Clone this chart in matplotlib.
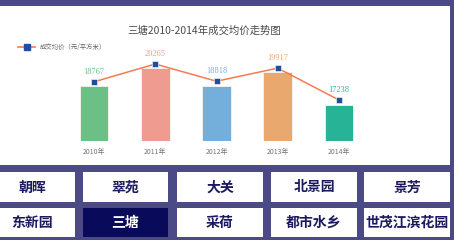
import matplotlib
matplotlib.use("Agg")
import matplotlib.pyplot as plt
from matplotlib.patches import Rectangle

plt.rcParams["font.family"] = ["Noto Sans CJK SC", "DejaVu Sans"]

years = ["2010年", "2011年", "2012年", "2013年", "2014年"]
price = [18767, 20265, 18818, 19917, 17238]
bar_colors = ["#6cc085", "#ef9b90", "#74afdc", "#e9a96e", "#27b395"]
buttons_row1 = ["朝晖", "翠苑", "大关", "北景园", "景芳"]
buttons_row2 = ["东新园", "三塘", "采荷", "都市水乡", "世茂江滨花园"]
selected = "三塘"

W, H = 454, 240
BG = "#4b4a86"
NAVY = "#1c1a5e"


def fig_rect(x0, y0, x1, y1):
    # pixel box (top-left origin) -> figure fraction
    return [x0 / W, 1 - y1 / H, (x1 - x0) / W, (y1 - y0) / H]


fig = plt.figure(figsize=(W / 100, H / 100), dpi=100)
fig.patch.set_facecolor(BG)

# full-figure pixel layer for panel and buttons
bg = fig.add_axes([0, 0, 1, 1])
bg.set_xlim(0, W)
bg.set_ylim(H, 0)
bg.axis("off")
bg.add_patch(Rectangle((-2, 6), 452, 159, facecolor="white", edgecolor="none"))

cols = [(-10, 75), (83, 168), (177, 263), (271, 357), (364, 450)]
rows = [(172, 202), (208, 237)]
for (y0, y1), names in zip(rows, [buttons_row1, buttons_row2]):
    for (x0, x1), name in zip(cols, names):
        sel = name == selected
        bg.add_patch(Rectangle((x0, y0), x1 - x0, y1 - y0,
                               facecolor="#0a0a5a" if sel else "white", edgecolor="none"))
        cx = 32 if x0 < 0 else (x0 + x1) / 2
        bg.text(cx, (y0 + y1) / 2 + 0.5, name, ha="center", va="center", fontsize=10,
                fontweight="bold", color="white" if sel else NAVY)

# title and legend
bg.text(204, 31, "三塘2010-2014年成交均价走势图", ha="center", va="center",
        fontsize=7.5, color="#4a4a4a")
bg.plot([18, 35], [47, 47], color="#f47c50", linewidth=1.2)
bg.plot([26.5], [47], marker="s", markersize=4, color="#1f4e9e", linestyle="none")
bg.text(40, 47, "成交均价（元/平方米）", ha="left", va="center", fontsize=4.6, color="#666666")

# bars
ax = fig.add_axes(fig_rect(63.4, 50, 369.6, 141))
x = range(len(years))
ax.bar(x, price, width=0.47, color=bar_colors, edgecolor="#f4f4f4", linewidth=0.6)
ax.set_xlim(-0.5, 4.5)
ax.set_ylim(14292, 21739)
ax.axis("off")
for i, lab in enumerate(years):
    fig.text((94 + 61.25 * i) / W, 1 - 152 / H, lab, ha="center", va="center",
             fontsize=5, color="#777777")

# line
ax2 = fig.add_axes(fig_rect(63.4, 50, 369.6, 141))
ax2.plot(x, price, color="#f47c50", linewidth=1.1, marker="s", markersize=4.2,
         markerfacecolor="#1f4e9e", markeredgecolor="white", markeredgewidth=0.4)
ax2.set_xlim(-0.5, 4.5)
ax2.set_ylim(13790, 21443)
ax2.axis("off")
for i, v in enumerate(price):
    ax2.annotate(str(v), (i, v), xytext=(0, 4.5), textcoords="offset points",
                 ha="center", va="bottom", fontsize=6, color=bar_colors[i],
                 family="Liberation Serif")

fig.savefig("out.png", dpi=100, facecolor=BG)
